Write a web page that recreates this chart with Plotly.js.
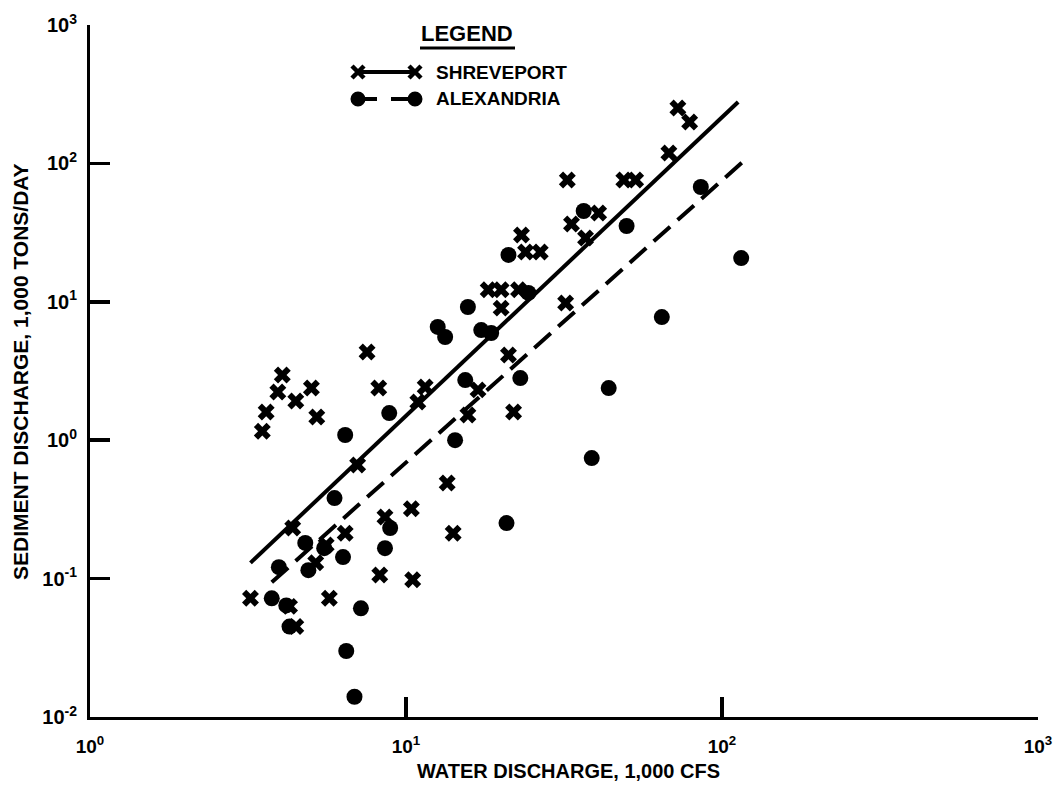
<!DOCTYPE html>
<html>
<head>
<meta charset="utf-8">
<script src="https://cdn.plot.ly/plotly-3.0.1.min.js"></script>
<style>
  html, body { margin: 0; padding: 0; background: #ffffff; }
  #chart { width: 1062px; height: 786px; }
</style>
</head>
<body>
<div id="chart"></div>
<script>
// ---- Data ----
// Shreveport: water discharge (1,000 cfs) vs sediment discharge (1,000 tons/day)
const shreveX = [3.22, 3.51, 3.61, 3.93, 4.06, 4.48, 5.02, 5.22, 5.72, 4.38,
                 4.28, 4.48, 5.18, 5.59, 6.42, 7.53, 8.2, 7.03, 8.58, 8.26,
                 10.5, 14.1, 10.4, 13.5, 10.9, 11.5, 16.9, 15.7, 21.9, 21.1,
                 20.0, 18.2, 20.0, 22.7, 32.0, 23.2, 23.9, 26.6, 33.4, 37.0,
                 40.7, 32.4, 48.9, 53.3, 67.9, 72.5, 79.0];
const shreveY = [0.072, 1.16, 1.6, 2.23, 2.96, 1.92, 2.38, 1.47, 0.072, 0.232,
                 0.063, 0.045, 0.13, 0.175, 0.213, 4.34, 2.38, 0.662, 0.279, 0.106,
                 0.098, 0.213, 0.32, 0.49, 1.89, 2.42, 2.31, 1.52, 1.60, 4.13,
                 9.0, 12.2, 12.2, 12.2, 9.8, 30.4, 22.9, 22.9, 36.5, 28.9,
                 43.8, 75.9, 75.9, 75.9, 119, 251, 199];

// Alexandria
const alexX = [3.76, 4.18, 4.28, 3.96, 4.80, 4.91, 5.51, 6.32, 5.94, 6.42,
               8.85, 8.91, 8.58, 7.2, 6.47, 6.87, 14.3, 15.4, 13.3, 12.6,
               15.7, 17.3, 18.6, 24.4, 21.1, 23.0, 36.5, 49.9, 85.7, 64.5,
               43.8, 38.7, 20.8, 115];
const alexY = [0.072, 0.064, 0.045, 0.121, 0.181, 0.115, 0.166, 0.143, 0.382, 1.09,
               1.57, 0.232, 0.166, 0.061, 0.030, 0.014, 1.0, 2.72, 5.57, 6.58,
               9.17, 6.25, 5.95, 11.6, 21.8, 2.81, 45.3, 35.3, 67.5, 7.76,
               2.38, 0.743, 0.252, 20.7];

// Fitted relations (end points)
const shreveLineX = [3.22, 112.5];
const shreveLineY = [0.13, 278];
const alexLineX = [3.76, 116];
const alexLineY = [0.094, 102];

// Tick labels
const xTickVals = [1, 10, 100, 1000];
const xTickText = ['10<sup>0</sup>', '10<sup>1</sup>', '10<sup>2</sup>', '10<sup>3</sup>'];
const yTickVals = [0.01, 0.1, 1, 10, 100, 1000];
const yTickText = ['10<sup>-2</sup>', '10<sup>-1</sup>', '10<sup>0</sup>', '10<sup>1</sup>', '10<sup>2</sup>', '10<sup>3</sup>'];

const seriesNames = ['SHREVEPORT', 'ALEXANDRIA'];
const xTitle = 'WATER DISCHARGE, 1,000 CFS';
const yTitle = 'SEDIMENT DISCHARGE, 1,000 TONS/DAY';

// ---- Drawing ----
const FONT = 'Liberation Sans, Arial, Helvetica, sans-serif';
const W = 1062, H = 786;
const M = {l: 90, r: 24, t: 25, b: 69};
const PW = W - M.l - M.r, PH = H - M.t - M.b;
const px2x = px => (px - M.l) / PW;
const py2y = py => (H - M.b - py) / PH;
const XR = [0, 3], YR = [-2, 3];

const traces = [
  {x: shreveLineX, y: shreveLineY, mode: 'lines', type: 'scatter',
   line: {color: '#000', width: 4}, hoverinfo: 'skip', name: seriesNames[0] + ' fit'},
  {x: alexLineX, y: alexLineY, mode: 'lines', type: 'scatter',
   line: {color: '#000', width: 4, dash: '22px,10px'}, hoverinfo: 'skip', name: seriesNames[1] + ' fit'},
  {x: shreveX, y: shreveY, mode: 'markers', type: 'scatter', name: seriesNames[0],
   marker: {symbol: 'x', size: 15, color: '#000', line: {width: 0}}},
  {x: alexX, y: alexY, mode: 'markers', type: 'scatter', name: seriesNames[1],
   marker: {symbol: 'circle', size: 16, color: '#000', line: {width: 0}}}
];

const legendY1 = py2y(72), legendY2 = py2y(99);
const gx1 = px2x(358), gx2 = px2x(415);

const shapes = [
  {type: 'line', xref: 'paper', yref: 'paper', x0: px2x(420), x1: px2x(515), y0: py2y(48), y1: py2y(48),
   line: {color: '#000', width: 3}},
  {type: 'line', xref: 'paper', yref: 'paper', x0: gx1, x1: gx2, y0: legendY1, y1: legendY1,
   line: {color: '#000', width: 4}},
  {type: 'line', xref: 'paper', yref: 'paper', x0: gx1, x1: px2x(377), y0: legendY2, y1: legendY2,
   line: {color: '#000', width: 4}},
  {type: 'line', xref: 'paper', yref: 'paper', x0: px2x(391), x1: gx2, y0: legendY2, y1: legendY2,
   line: {color: '#000', width: 4}}
];
[gx1, gx2].forEach(gx => {
  shapes.push({type: 'path', xref: 'paper', yref: 'paper', xsizemode: 'pixel', ysizemode: 'pixel',
    xanchor: gx, yanchor: legendY1, path: 'M-6,-6L6,6M-6,6L6,-6',
    line: {color: '#000', width: 4.5}});
  shapes.push({type: 'circle', xref: 'paper', yref: 'paper', xsizemode: 'pixel', ysizemode: 'pixel',
    xanchor: gx, yanchor: legendY2, x0: -7.5, x1: 7.5, y0: -7.5, y1: 7.5,
    fillcolor: '#000', line: {color: '#000', width: 0}});
});

const annotations = [
  {text: 'LEGEND', xref: 'paper', yref: 'paper', x: px2x(467), y: py2y(34), showarrow: false,
   xanchor: 'center', yanchor: 'middle', font: {family: FONT, size: 22, color: '#000', weight: 700}},
  {text: seriesNames[0], xref: 'paper', yref: 'paper', x: px2x(434), y: legendY1, showarrow: false,
   xanchor: 'left', yanchor: 'middle', font: {family: FONT, size: 19, color: '#000', weight: 700}},
  {text: seriesNames[1], xref: 'paper', yref: 'paper', x: px2x(434), y: legendY2, showarrow: false,
   xanchor: 'left', yanchor: 'middle', font: {family: FONT, size: 19, color: '#000', weight: 700}},
  {text: xTitle, xref: 'paper', yref: 'paper', x: px2x(568), y: py2y(771), showarrow: false,
   xanchor: 'center', yanchor: 'middle', font: {family: FONT, size: 20, color: '#000', weight: 700}},
  {text: yTitle, xref: 'paper', yref: 'paper', x: px2x(21), y: py2y(372), showarrow: false,
   textangle: -90, xanchor: 'center', yanchor: 'middle', font: {family: FONT, size: 21, color: '#000', weight: 700}}
];

const layout = {
  width: W, height: H,
  margin: M,
  paper_bgcolor: '#ffffff', plot_bgcolor: '#ffffff',
  showlegend: false,
  font: {family: FONT, color: '#000'},
  xaxis: {
    type: 'log', range: XR, showgrid: false, zeroline: false,
    showline: true, linecolor: '#000', linewidth: 3, mirror: false,
    ticks: 'inside', ticklen: 20, tickwidth: 3.5, tickcolor: '#000', tickmode: 'array',
    tickvals: xTickVals, ticktext: xTickText, ticklabelstandoff: 10,
    tickfont: {family: FONT, size: 19, color: '#000', weight: 700}
  },
  yaxis: {
    type: 'log', range: YR, showgrid: false, zeroline: false,
    showline: true, linecolor: '#000', linewidth: 3, mirror: false,
    ticks: 'inside', ticklen: 20, tickwidth: 3.5, tickcolor: '#000', tickmode: 'array',
    tickvals: yTickVals, ticktext: yTickText, ticklabelstandoff: 6,
    tickfont: {family: FONT, size: 20, color: '#000', weight: 700}
  },
  shapes: shapes,
  annotations: annotations
};

Plotly.newPlot('chart', traces, layout, {displayModeBar: false, staticPlot: true});
</script>
</body>
</html>
